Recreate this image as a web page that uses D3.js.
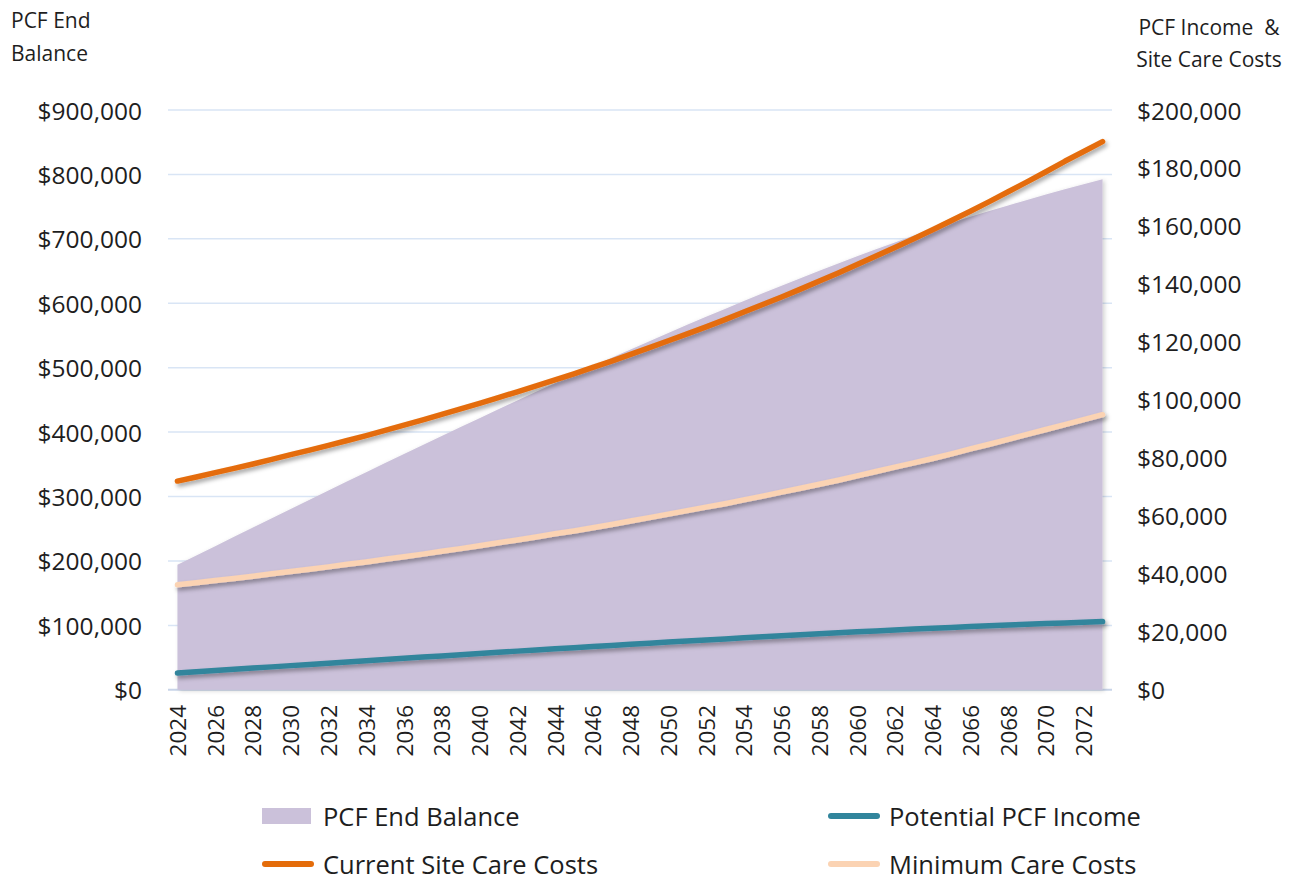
<!DOCTYPE html>
<html>
<head>
<meta charset="utf-8">
<script src="https://cdn.jsdelivr.net/npm/d3@7/dist/d3.min.js"></script>
<style>
  html, body { margin: 0; padding: 0; background: #fff; }
  svg text { font-family: "Open Sans", "Noto Sans", sans-serif; fill: #1e1e1e; white-space: pre; }
</style>
</head>
<body>
<svg id="chart" width="1301" height="878"></svg>
<script>
// ---------- data ----------
const years = [2024,2025,2026,2027,2028,2029,2030,2031,2032,2033,2034,2035,2036,2037,2038,2039,2040,2041,2042,2043,2044,2045,2046,2047,2048,2049,2050,2051,2052,2053,2054,2055,2056,2057,2058,2059,2060,2061,2062,2063,2064,2065,2066,2067,2068,2069,2070,2071,2072,2073];

// PCF End Balance (left axis, $)
const endBalance = [194000,208500,223000,237500,252000,266400,280800,295100,309400,323600,337800,351900,366000,380000,394000,407900,421700,435400,449000,462500,475900,489200,502400,515500,528400,541200,553900,566500,578900,591200,603400,615400,627300,639000,650500,661800,672900,683800,694500,705000,715300,724900,734200,743200,751900,760400,768700,776800,784700,792400];

// Potential PCF Income (right axis, $)
const pcfIncome = [5760,6190,6620,7050,7480,7910,8340,8760,9190,9610,10030,10450,10870,11290,11700,12110,12520,12930,13340,13740,14130,14530,14920,15310,15690,16070,16450,16830,17190,17560,17920,18280,18630,18980,19320,19660,19990,20310,20630,20940,21240,21530,21810,22070,22330,22580,22830,23070,23310,23530];

// Current Site Care Costs (right axis, $)
const currentCosts = [72000,73400,74900,76400,77900,79500,81100,82700,84300,86000,87700,89500,91300,93100,95000,96900,98800,100800,102800,104800,106900,109000,111200,113400,115700,118000,120400,122800,125200,127700,130300,132900,135500,138200,141000,143800,146700,149600,152600,155600,158700,161900,165100,168400,171800,175200,178700,182300,185700,189100];

// Minimum Care Costs (right axis, $)
const minCosts = [36200,36900,37700,38400,39200,40000,40800,41600,42400,43300,44100,45000,45900,46800,47800,48700,49700,50700,51700,52700,53800,54800,55900,57000,58200,59400,60600,61800,63000,64200,65500,66800,68200,69500,70900,72300,73800,75300,76800,78300,79800,81400,83100,84700,86400,88100,89800,91500,93200,94900];

const leftTicks = [0,100000,200000,300000,400000,500000,600000,700000,800000,900000];
const rightTicks = [0,20000,40000,60000,80000,100000,120000,140000,160000,180000,200000];
const yearLabels = [2024,2026,2028,2030,2032,2034,2036,2038,2040,2042,2044,2046,2048,2050,2052,2054,2056,2058,2060,2062,2064,2066,2068,2070,2072];

const leftTitle = ["PCF End", "Balance"];
const rightTitle = ["PCF Income\u00a0 &", "Site Care Costs"];

const seriesNames = ["PCF End Balance", "Potential PCF Income", "Current Site Care Costs", "Minimum Care Costs"];
const seriesColors = ["#CBC1DA", "#31859C", "#E46C0A", "#FBD3B3"];

// ---------- layout ----------
const svg = d3.select("#chart");
const L = 168, R = 1112, T = 110, B = 689.8;

const x = d3.scalePoint().domain(years).range([L, R]).padding(0.5);
const yL = d3.scaleLinear().domain([0, 900000]).range([B, T]);
const yR = d3.scaleLinear().domain([0, 200000]).range([B, T]);
const money = v => "$" + d3.format(",")(v);

// filters
const defs = svg.append("defs");
const f = defs.append("filter").attr("id", "shadow").attr("x", "-10%").attr("y", "-10%").attr("width", "120%").attr("height", "130%");
f.append("feDropShadow").attr("dx", 2).attr("dy", 3).attr("stdDeviation", 2)
  .attr("flood-color", "#000").attr("flood-opacity", 0.35);
const fa = defs.append("filter").attr("id", "ashadow").attr("x", "-5%").attr("y", "-5%").attr("width", "110%").attr("height", "110%");
fa.append("feDropShadow").attr("dx", 2).attr("dy", 1).attr("stdDeviation", 2)
  .attr("flood-color", "#000").attr("flood-opacity", 0.18);

// gridlines
svg.append("g").selectAll("line").data(leftTicks).join("line")
  .attr("x1", L).attr("x2", R)
  .attr("y1", d => yL(d)).attr("y2", d => yL(d))
  .attr("stroke", d => d === 0 ? "#C8D4E8" : "#D9E5F5").attr("stroke-width", d => d === 0 ? 2 : 1.5);

// area
const area = d3.area()
  .x((d, i) => x(years[i]))
  .y0(yL(0))
  .y1(d => yL(d));
svg.append("path").datum(endBalance)
  .attr("d", area)
  .attr("fill", seriesColors[0])
  .attr("filter", "url(#ashadow)");

// lines
function drawLine(data, color) {
  const line = d3.line().x((d, i) => x(years[i])).y(d => yR(d));
  svg.append("path").datum(data)
    .attr("d", line)
    .attr("fill", "none")
    .attr("stroke", color)
    .attr("stroke-width", 5.5)
    .attr("stroke-linecap", "round")
    .attr("stroke-linejoin", "round")
    .attr("filter", "url(#shadow)");
}
drawLine(minCosts, seriesColors[3]);
drawLine(pcfIncome, seriesColors[1]);
drawLine(currentCosts, seriesColors[2]);

// left axis labels
svg.append("g").selectAll("text").data(leftTicks).join("text")
  .attr("x", 142).attr("y", d => yL(d))
  .attr("text-anchor", "end").attr("dominant-baseline", "central")
  .attr("font-size", 24.5).attr("font-weight", 400)
  .text(money);

// right axis labels
svg.append("g").selectAll("text").data(rightTicks).join("text")
  .attr("x", 1137).attr("y", d => yR(d))
  .attr("text-anchor", "start").attr("dominant-baseline", "central")
  .attr("font-size", 24.5).attr("font-weight", 400)
  .text(money);

// x axis labels
svg.append("g").selectAll("text").data(yearLabels).join("text")
  .attr("transform", d => `translate(${x(d)},705) rotate(-90)`)
  .attr("text-anchor", "end").attr("dominant-baseline", "central")
  .attr("font-size", 22.5).attr("font-weight", 400)
  .text(d => d);

// axis titles
svg.append("text").attr("x", 11).attr("y", 28).attr("font-size", 21).attr("font-weight", 400)
  .selectAll("tspan").data(leftTitle).join("tspan")
  .attr("x", 11).attr("dy", (d, i) => i === 0 ? 0 : 33).text(d => d);
svg.append("text").attr("x", 1209).attr("y", 35).attr("font-size", 21).attr("font-weight", 400)
  .attr("text-anchor", "middle")
  .selectAll("tspan").data(rightTitle).join("tspan")
  .attr("x", 1209).attr("dy", (d, i) => i === 0 ? 0 : 32).text(d => d);

// legend
const legendPos = [
  {x: 262, y: 816, type: "rect"},
  {x: 828, y: 816, type: "line"},
  {x: 262, y: 864, type: "line"},
  {x: 828, y: 864, type: "line"}
];
const lg = svg.append("g");
seriesNames.forEach((name, i) => {
  const p = legendPos[i];
  if (p.type === "rect") {
    lg.append("rect").attr("x", p.x).attr("y", p.y - 8).attr("width", 49).attr("height", 16)
      .attr("fill", seriesColors[i]);
  } else {
    lg.append("line").attr("x1", p.x + 3).attr("x2", p.x + 49).attr("y1", p.y).attr("y2", p.y)
      .attr("stroke", seriesColors[i]).attr("stroke-width", 6).attr("stroke-linecap", "round");
  }
  lg.append("text").attr("x", p.x + 61).attr("y", p.y).attr("dominant-baseline", "central")
    .attr("font-size", 25.5).attr("font-weight", 400).text(name);
});
</script>
</body>
</html>
